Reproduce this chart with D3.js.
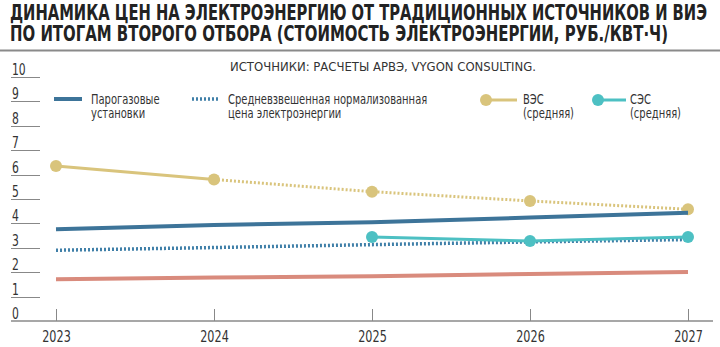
<!DOCTYPE html>
<html>
<head>
<meta charset="utf-8">
<script src="https://cdn.jsdelivr.net/npm/d3@7"></script>
<style>
  body { margin: 0; background: #fff; }
  svg { display: block; }
  text { font-family: "Liberation Sans Narrow", "DejaVu Sans Condensed", "Roboto", sans-serif; fill: #333; }
</style>
</head>
<body>
<script>
// values, руб./кВт·ч
var years = [2023, 2024, 2025, 2026, 2027];
var yTicks = [0, 1, 2, 3, 4, 5, 6, 7, 8, 9, 10];
var wind = [6.35, 5.8, 5.3, 4.92, 4.58];          // ВЭС (средняя)
var ccgt = [3.76, 3.93, 4.05, 4.24, 4.44];        // Парогазовые установки
var avgPrice = [2.9, 3.01, 3.13, 3.24, 3.34];     // Средневзвешенная нормализованная цена
var solarYears = [2025, 2026, 2027];
var solar = [3.44, 3.28, 3.44];                   // СЭС (средняя)
var other = [1.71, 1.78, 1.83, 1.93, 2.01];       // красная линия (без подписи)

var titleLines = [
  "ДИНАМИКА ЦЕН НА ЭЛЕКТРОЭНЕРГИЮ ОТ ТРАДИЦИОННЫХ ИСТОЧНИКОВ И ВИЭ",
  "ПО ИТОГАМ ВТОРОГО ОТБОРА (СТОИМОСТЬ ЭЛЕКТРОЭНЕРГИИ, РУБ./КВТ·Ч)"
];
var source = "ИСТОЧНИКИ: РАСЧЕТЫ АРВЭ, VYGON CONSULTING.";

var width = 720, height = 347;
var blue = "#3d7499", blueDot = "#3f7fa8", gold = "#d9c47c", teal = "#4dc0c3", red = "#d98b7d";

var svg = d3.select("body").append("svg")
  .attr("width", width)
  .attr("height", height);

// the original uses a condensed face; squeeze ours horizontally around its anchor
function squeeze(sel, k) {
  sel.each(function() {
    var t = d3.select(this), x0 = +t.attr("x") || 0;
    t.attr("transform", "translate(" + x0 + ",0) scale(" + k + ",1) translate(" + (-x0) + ",0)");
  });
}

// title
var titleLen = [697, 658];
svg.selectAll("text.title")
  .data(titleLines)
  .enter().append("text")
    .attr("class", "title")
    .attr("x", 10)
    .attr("y", function(d, i) { return 20 + i * 21; })
    .attr("textLength", function(d, i) { return titleLen[i]; })
    .attr("lengthAdjust", "spacingAndGlyphs")
    .style("font-size", "21px")
    .style("font-weight", "bold")
    .style("fill", "#222")
    .text(function(d) { return d; });

svg.append("line")
  .attr("x1", 0).attr("x2", width)
  .attr("y1", 50.5).attr("y2", 50.5)
  .attr("stroke", "#8a8a8a")
  .attr("stroke-width", 2);

svg.append("text")
  .attr("x", 230).attr("y", 71)
  .attr("textLength", 306).attr("lengthAdjust", "spacingAndGlyphs")
  .style("font-size", "13px")
  .text(source);

var x = d3.scaleLinear().domain([2023, 2027]).range([56, 688]);
var y = d3.scaleLinear().domain([0, 10]).range([321, 77]);

// y ticks: short rules with numbers sitting on them
var yg = svg.append("g");
yg.selectAll("line")
  .data(yTicks.filter(function(d) { return d > 0; }))
  .enter().append("line")
    .attr("x1", 11).attr("x2", 40)
    .attr("y1", function(d) { return Math.round(y(d)) + 0.5; })
    .attr("y2", function(d) { return Math.round(y(d)) + 0.5; })
    .attr("stroke", "#888")
    .attr("stroke-width", 1);
yg.selectAll("text")
  .data(yTicks)
  .enter().append("text")
    .attr("x", 12)
    .attr("y", function(d) { return y(d) - 2; })
    .style("font-size", "15px")
    .text(function(d) { return d; })
    .call(squeeze, 0.8);

// x axis
var xAxis = d3.axisBottom(x)
  .tickValues(years)
  .tickFormat(d3.format("d"))
  .tickSize(0)
  .tickPadding(10);
var xg = svg.append("g")
  .attr("transform", "translate(0," + y(0) + ")")
  .call(xAxis);
xg.select(".domain").remove();
xg.selectAll("text")
  .style("font-size", "16px")
  .style("font-family", null)
  .attr("fill", null)
  .call(squeeze, 0.78);
xg.selectAll(".tick").append("line")
  .attr("y1", -12).attr("y2", 0)
  .attr("stroke", "#888");
svg.append("line")
  .attr("x1", 11).attr("x2", 713)
  .attr("y1", y(0)).attr("y2", y(0))
  .attr("stroke", "#8a8a8a")
  .attr("stroke-width", 1.5);

var line = d3.line()
  .x(function(d) { return x(d[0]); })
  .y(function(d) { return y(d[1]); });

function pairs(xs, vs) { return xs.map(function(v, i) { return [v, vs[i]]; }); }

var windPts = pairs(years, wind);

// ВЭС: solid for the first step, dotted afterwards
svg.append("path")
  .attr("d", line(windPts.slice(0, 2)))
  .attr("fill", "none").attr("stroke", gold).attr("stroke-width", 3);
svg.append("path")
  .attr("d", line(windPts.slice(1)))
  .attr("fill", "none").attr("stroke", gold).attr("stroke-width", 3)
  .attr("stroke-dasharray", "2,2");
svg.append("g").selectAll("circle")
  .data(windPts)
  .enter().append("circle")
    .attr("cx", function(d) { return x(d[0]); })
    .attr("cy", function(d) { return y(d[1]); })
    .attr("r", 6)
    .attr("fill", gold);

svg.append("path")
  .attr("d", line(pairs(years, other)))
  .attr("fill", "none").attr("stroke", red).attr("stroke-width", 4);

svg.append("path")
  .attr("d", line(pairs(years, ccgt)))
  .attr("fill", "none").attr("stroke", blue).attr("stroke-width", 4);

svg.append("path")
  .attr("d", line(pairs(years, avgPrice)))
  .attr("fill", "none").attr("stroke", blueDot).attr("stroke-width", 3.5)
  .attr("stroke-dasharray", "2,2");

var solarPts = pairs(solarYears, solar);
svg.append("path")
  .attr("d", line(solarPts))
  .attr("fill", "none").attr("stroke", teal).attr("stroke-width", 3);
svg.append("g").selectAll("circle")
  .data(solarPts)
  .enter().append("circle")
    .attr("cx", function(d) { return x(d[0]); })
    .attr("cy", function(d) { return y(d[1]); })
    .attr("r", 6)
    .attr("fill", teal);

// legend
var lg = svg.append("g").style("font-size", "14px");
function legendText(tx, lines) {
  lg.append("text")
    .attr("x", tx).attr("y", 104)
    .call(function(t) {
      t.selectAll("tspan")
        .data(lines)
        .enter().append("tspan")
          .attr("x", tx)
          .attr("dy", function(d, i) { return i ? 14.5 : 0; })
          .text(function(d) { return d; });
    })
    .call(squeeze, 0.79);
}
lg.append("line").attr("x1", 54).attr("x2", 82).attr("y1", 99).attr("y2", 99)
  .attr("stroke", blue).attr("stroke-width", 4);
legendText(91, ["Парогазовые", "установки"]);
lg.append("line").attr("x1", 192).attr("x2", 220).attr("y1", 99).attr("y2", 99)
  .attr("stroke", blueDot).attr("stroke-width", 3.5).attr("stroke-dasharray", "2,2");
legendText(228, ["Средневзвешенная нормализованная", "цена электроэнергии"]);
lg.append("line").attr("x1", 486).attr("x2", 517).attr("y1", 100).attr("y2", 100)
  .attr("stroke", gold).attr("stroke-width", 3);
lg.append("circle").attr("cx", 486).attr("cy", 100).attr("r", 6).attr("fill", gold);
legendText(523, ["ВЭС", "(средняя)"]);
lg.append("line").attr("x1", 598).attr("x2", 626).attr("y1", 100).attr("y2", 100)
  .attr("stroke", teal).attr("stroke-width", 3);
lg.append("circle").attr("cx", 598).attr("cy", 100).attr("r", 6).attr("fill", teal);
legendText(630, ["СЭС", "(средняя)"]);
</script>
</body>
</html>
